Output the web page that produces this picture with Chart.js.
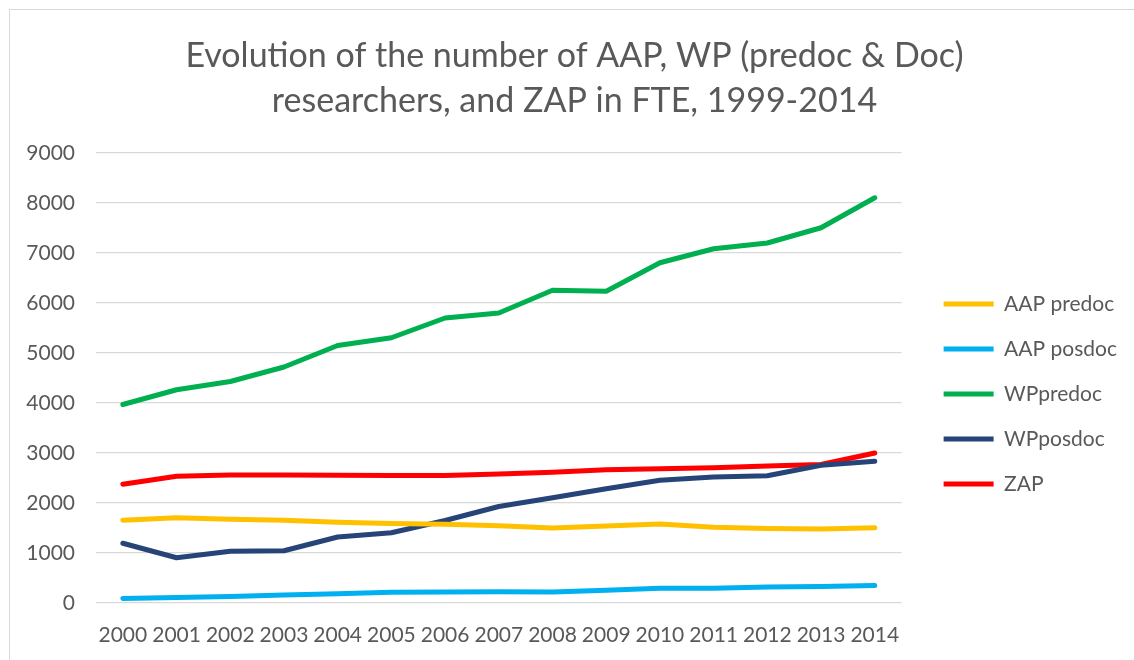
<!DOCTYPE html>
<html>
<head>
<meta charset="utf-8">
<script src="https://cdn.jsdelivr.net/npm/chart.js@4/dist/chart.umd.min.js"></script>
<style>
    body { margin: 0; background: #fff; }
    .wrap { position: relative; width: 1134px; height: 660px; }
    .frame { position: absolute; left: 9px; top: 9px; right: -2px; bottom: -2px; border-left: 1px solid #d9d9d9; border-top: 1px solid #d9d9d9; pointer-events: none; }
</style>
</head>
<body>
<div class="wrap">
    <canvas id="lineCanvas" width="1134" height="660"></canvas>
    <div class="frame"></div>
</div>
<script>
// data
var years = ["2000", "2001", "2002", "2003", "2004", "2005", "2006", "2007", "2008", "2009", "2010", "2011", "2012", "2013", "2014"];
var aapPredoc = [1655, 1705, 1675, 1655, 1615, 1590, 1575, 1545, 1500, 1540, 1580, 1515, 1490, 1480, 1505];
var aapPosdoc = [90, 110, 130, 160, 185, 215, 220, 225, 220, 255, 295, 295, 320, 330, 350];
var wpPredoc = [3970, 4265, 4430, 4720, 5150, 5305, 5700, 5800, 6255, 6235, 6805, 7085, 7200, 7505, 8105];
var wpPosdoc = [1195, 905, 1035, 1045, 1320, 1405, 1650, 1930, 2105, 2285, 2455, 2520, 2545, 2755, 2835];
var zap = [2375, 2535, 2560, 2560, 2555, 2548, 2548, 2580, 2615, 2665, 2685, 2705, 2740, 2770, 3000];
var yTicks = [0, 1000, 2000, 3000, 4000, 5000, 6000, 7000, 8000, 9000];

var chartColors = {
    yellow: '#ffc000',
    cyan: '#00b0f0',
    green: '#00b050',
    navy: '#264478',
    red: '#ff0000'
};

function makeSet(label, data, color) {
    return {
        label: label,
        data: data,
        borderColor: color,
        backgroundColor: color,
        borderWidth: 5,
        borderCapStyle: 'round',
        borderJoinStyle: 'round',
        pointRadius: 0,
        pointHoverRadius: 0,
        tension: 0,
        fill: false
    };
}

var textColor = '#595959';
Chart.defaults.font.family = 'Lato, "Liberation Sans", sans-serif';
Chart.defaults.color = textColor;

// push the legend away from the plot and nudge the title, like the original
var nudge = {
    id: 'nudge',
    afterLayout: function (chart) {
        chart.legend.left += 18;
        chart.legend.right += 18;
        chart.titleBlock.left += 10;
        chart.titleBlock.right += 10;
    }
};

var ctx = document.getElementById('lineCanvas').getContext('2d');
window.myLine = new Chart(ctx, {
    type: 'line',
    data: {
        labels: years,
        datasets: [
            makeSet('AAP predoc', aapPredoc, chartColors.yellow),
            makeSet('AAP posdoc', aapPosdoc, chartColors.cyan),
            makeSet('WPpredoc', wpPredoc, chartColors.green),
            makeSet('WPposdoc', wpPosdoc, chartColors.navy),
            makeSet('ZAP', zap, chartColors.red)
        ]
    },
    plugins: [nudge],
    options: {
        responsive: false,
        animation: false,
        layout: {
            padding: { top: 10, left: 20, right: 25, bottom: 14 }
        },
        plugins: {
            title: {
                display: true,
                text: ['Evolution of the number of AAP, WP (predoc & Doc)', 'researchers, and ZAP in FTE, 1999-2014'],
                color: textColor,
                font: { size: 34, weight: 'normal', lineHeight: 45 / 34 },
                padding: { top: 24, bottom: 29 }
            },
            legend: {
                position: 'right',
                align: 'center',
                title: {
                    display: true,
                    text: ' ',
                    font: { size: 12, lineHeight: 1 },
                    padding: { top: 60, bottom: 60 }
                },
                labels: {
                    usePointStyle: true,
                    pointStyle: 'line',
                    pointStyleWidth: 50,
                    boxHeight: 21,
                    color: textColor,
                    font: { size: 21 },
                    padding: 24
                }
            },
            tooltip: { enabled: false }
        },
        scales: {
            x: {
                offset: true,
                grid: { display: false, drawTicks: false },
                border: { display: false },
                afterFit: function (scale) {
                    scale.height = 43;
                },
                ticks: { color: textColor, font: { size: 21 }, padding: 20, maxRotation: 0, autoSkip: false }
            },
            y: {
                min: 0,
                max: 9000,
                afterBuildTicks: function (scale) {
                    scale.ticks = yTicks.map(function (v) { return { value: v }; });
                },
                afterFit: function (scale) {
                    scale.width = 76;
                },
                grid: { color: '#d9d9d9', lineWidth: 1.3, drawTicks: false },
                border: { display: false },
                ticks: {
                    color: textColor,
                    font: { size: 21 },
                    padding: 21,
                    callback: function (value) { return String(value); }
                }
            }
        }
    }
});
</script>
</body>
</html>
